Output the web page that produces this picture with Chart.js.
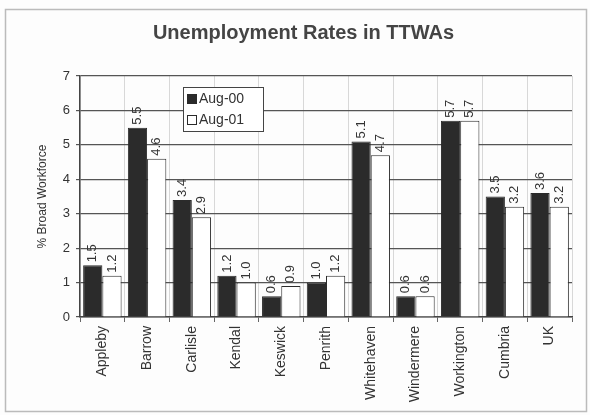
<!DOCTYPE html>
<html>
<head>
<meta charset="utf-8">
<script src="https://cdn.jsdelivr.net/npm/chart.js@4.4.1/dist/chart.umd.min.js"></script>
<style>
  body { margin: 0; background: #fff; }
  #wrap { width: 590px; height: 415px; }
</style>
</head>
<body>
<div id="wrap"><canvas id="myChart" width="590" height="415"></canvas></div>
<script>
// data
const towns = ["Appleby", "Barrow", "Carlisle", "Kendal", "Keswick", "Penrith",
  "Whitehaven", "Windermere", "Workington", "Cumbria", "UK"];
const aug00 = [1.5, 5.5, 3.4, 1.2, 0.6, 1.0, 5.1, 0.6, 5.7, 3.5, 3.6];
const aug01 = [1.2, 4.6, 2.9, 1.0, 0.9, 1.2, 4.7, 0.6, 5.7, 3.2, 3.2];
const yTicks = [0, 1, 2, 3, 4, 5, 6, 7];

const ink = "#2b2b2b";

// rotated value labels above each bar
const valueLabels = {
  id: "valueLabels",
  afterDatasetsDraw(chart) {
    const ctx = chart.ctx;
    ctx.save();
    ctx.font = "13px Arial, 'Liberation Sans'";
    ctx.fillStyle = "#333";
    ctx.textAlign = "left";
    ctx.textBaseline = "middle";
    chart.data.datasets.forEach((ds, i) => {
      chart.getDatasetMeta(i).data.forEach((bar, j) => {
        ctx.save();
        ctx.translate(bar.x, bar.y - 3);
        ctx.rotate(-Math.PI / 2);
        ctx.fillText(ds.data[j].toFixed(1), 0, 0);
        ctx.restore();
      });
    });
    ctx.restore();
  }
};

// frame round the picture and legend box inside the plot
const frameAndLegend = {
  id: "frameAndLegend",
  beforeDraw(chart) {
    const ctx = chart.ctx;
    ctx.save();
    ctx.fillStyle = "#fdfdfd";
    ctx.fillRect(0, 0, 590, 415);
    ctx.strokeStyle = "#bbb";
    ctx.lineWidth = 1.5;
    ctx.strokeRect(5.5, 9.5, 581, 402);
    ctx.restore();
  },
  afterDraw(chart) {
    const ctx = chart.ctx;
    ctx.save();
    ctx.fillStyle = "#fff";
    ctx.strokeStyle = "#444";
    ctx.lineWidth = 1;
    ctx.fillRect(183.5, 87.5, 80, 44);
    ctx.strokeRect(183.5, 87.5, 80, 44);
    ctx.font = "14px Arial, 'Liberation Sans'";
    ctx.textBaseline = "middle";
    chart.data.datasets.forEach((ds, i) => {
      const y = 99 + i * 21;
      ctx.fillStyle = ds.backgroundColor;
      ctx.fillRect(187.5, y - 4.5, 9, 9);
      ctx.strokeStyle = ink;
      ctx.strokeRect(187.5, y - 4.5, 9, 9);
      ctx.fillStyle = "#333";
      ctx.fillText(ds.label, 199, y);
    });
    ctx.restore();
  }
};

new Chart("myChart", {
  type: "bar",
  data: {
    labels: towns,
    datasets: [
      { label: "Aug-00", data: aug00, backgroundColor: ink, borderColor: ink, borderWidth: 1 },
      { label: "Aug-01", data: aug01, backgroundColor: "#ffffff", borderColor: ink, borderWidth: 1 }
    ]
  },
  options: {
    responsive: false,
    animation: false,
    layout: { padding: { left: 35, right: 18, top: 14, bottom: 8 } },
    categoryPercentage: 0.86,
    barPercentage: 1.0,
    plugins: {
      legend: { display: false },
      tooltip: { enabled: false },
      title: {
        display: true,
        text: "Unemployment Rates in TTWAs",
        color: "#444",
        font: { family: "Arial, 'Liberation Sans'", size: 20, weight: "bold" },
        padding: { top: 7, bottom: 31 }
      }
    },
    scales: {
      x: {
        grid: { display: true, offset: true, color: "#d8d8d8", drawTicks: true, tickLength: 5,
          tickColor: "#666" },
        border: { color: "#444", width: 1.5 },
        ticks: {
          color: "#333",
          font: { family: "Arial, 'Liberation Sans'", size: 14 },
          maxRotation: 90, minRotation: 90, padding: 4
        },
        afterFit(s) { s.height = 90; }
      },
      y: {
        min: 0, max: 7,
        afterBuildTicks(s) { s.ticks = yTicks.map(v => ({ value: v })); },
        grid: { color: "#555", lineWidth: 1.2, tickLength: 4, tickColor: "#555" },
        border: { color: "#444", width: 1.5 },
        ticks: {
          color: "#333",
          font: { family: "Arial, 'Liberation Sans'", size: 13 },
          padding: 6
        },
        title: {
          display: true,
          text: "% Broad Workforce",
          color: "#333",
          font: { family: "Arial, 'Liberation Sans'", size: 12 },
          padding: { top: 0, bottom: 4 }
        },
        afterFit(s) { s.width = 45; }
      }
    }
  },
  plugins: [frameAndLegend, valueLabels]
});
</script>
</body>
</html>
